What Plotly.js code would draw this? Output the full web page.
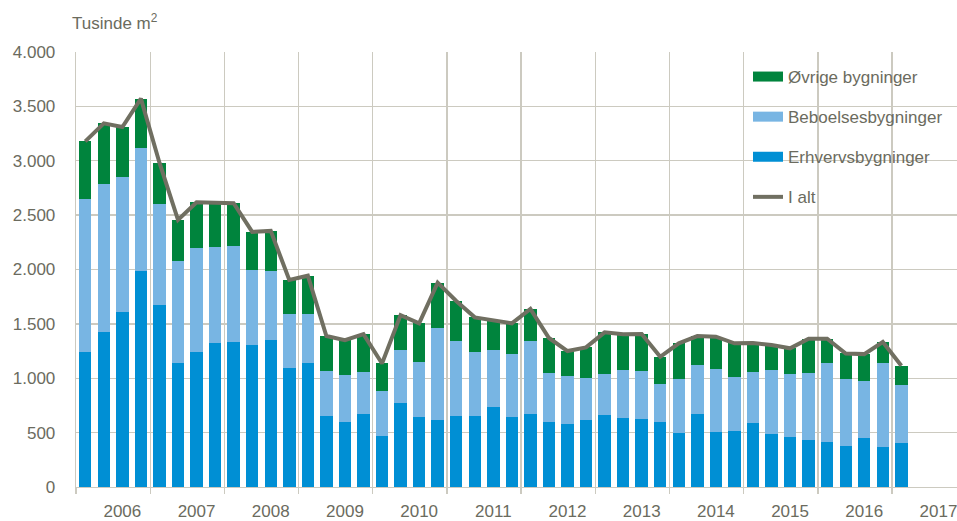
<!DOCTYPE html>
<html>
<head>
<meta charset="utf-8">
<script src="https://cdn.plot.ly/plotly-3.0.1.min.js"></script>
<style>html,body{margin:0;padding:0;background:#fff;}#chart{width:957px;height:521px;}</style>
</head>
<body>
<div id="chart"></div>
<script>
// Quarterly values, 2006 Q1 - 2017 Q1 (index 0..44), thousand m2
const quarterIndex = [0,1,2,3,4,5,6,7,8,9,10,11,12,13,14,15,16,17,18,19,20,21,22,23,24,25,26,27,28,29,30,31,32,33,34,35,36,37,38,39,40,41,42,43,44];
const erhverv = [1243,1428,1612,1990, 1674,1142,1243,1327, 1333,1305,1354,1096, 1142,654,599,672, 470,774,645,620, 654,654,737,645, 672,596,577,617, 660,636,626,596, 497,667,504,516, 590,491,461,433, 415,381,452,366, 405];
const beboelse = [1407,1360,1241,1127, 930,937,953,881, 884,691,630,495, 446,414,427,382, 414,485,504,845, 688,584,519,580, 670,454,443,381, 378,436,440,347, 498,451,577,494, 466,581,577,614, 724,611,521,776, 529];
const oevrige = [528,556,457,454, 378,377,423,411, 393,350,371,313, 355,320,325,352, 252,322,356,414, 368,322,279,280, 295,320,230,286, 384,332,340,254, 326,270,301,311, 269,233,237,316, 224,236,249,191, 181];
const ialt = [3178,3344,3310,3571, 2982,2456,2619,2619, 2610,2346,2355,1904, 1943,1388,1351,1406, 1136,1581,1505,1879, 1710,1560,1535,1505, 1637,1370,1250,1284, 1422,1404,1406,1197, 1321,1388,1382,1321, 1325,1305,1275,1363, 1363,1228,1222,1333, 1115];
const yearLabels = ['2006','2007','2008','2009','2010','2011','2012','2013','2014','2015','2016','2017'];
const seriesNames = ['Øvrige bygninger','Beboelsesbygninger','Erhvervsbygninger','I alt'];

const cErh = '#008FD4', cBeb = '#78B5E3', cOev = '#00843D', cTot = '#706F61';
const txt = '#6B6B5E', grid = '#CCCAC0';
const font = '"Liberation Sans", Arial, sans-serif';

const yearTickPos = yearLabels.map((_, i) => i * 4 + 2);
const boundaryPos = yearLabels.map((_, i) => i * 4 - 0.5);

const traces = [
  {x:[null], y:[null], mode:'lines', name:seriesNames[0], line:{color:cOev, width:11}, legendgroup:'a', legendrank:1, hoverinfo:'skip'},
  {x:[null], y:[null], mode:'lines', name:seriesNames[1], line:{color:cBeb, width:11}, legendgroup:'b', legendrank:2, hoverinfo:'skip'},
  {x:[null], y:[null], mode:'lines', name:seriesNames[2], line:{color:cErh, width:11}, legendgroup:'c', legendrank:3, hoverinfo:'skip'},
  {type:'bar', x:quarterIndex, y:erhverv, name:seriesNames[2], marker:{color:cErh, line:{width:0}}, showlegend:false, hoverinfo:'skip'},
  {type:'bar', x:quarterIndex, y:beboelse, name:seriesNames[1], marker:{color:cBeb, line:{width:0}}, showlegend:false, hoverinfo:'skip'},
  {type:'bar', x:quarterIndex, y:oevrige, name:seriesNames[0], marker:{color:cOev, line:{width:0}}, showlegend:false, hoverinfo:'skip'},
  {type:'scatter', mode:'lines', x:quarterIndex, y:ialt, name:seriesNames[3], line:{color:cTot, width:4}, legendgroup:'d', legendrank:4, hoverinfo:'skip'},
  {x:[null], y:[null], xaxis:'x2', yaxis:'y', mode:'lines', showlegend:false, hoverinfo:'skip'}
];

const layout = {
  width:957, height:521,
  margin:{l:76, r:0, t:52, b:34, pad:0, autoexpand:false},
  paper_bgcolor:'#fff', plot_bgcolor:'#fff',
  separators:',.',
  font:{family:font, size:17, color:txt},
  barmode:'stack', bargap:0.33,
  showlegend:true,
  title:{text:'Tusinde m<sup>2</sup>', font:{family:font, size:17, color:txt}, xref:'container', yref:'container', x:72/957, xanchor:'left', y:1-23/521, yanchor:'middle'},
  xaxis:{range:[-0.5, 47], tickvals:boundaryPos, showticklabels:false, ticks:'outside', ticklen:6, tickcolor:grid, tickwidth:1.3,
         showgrid:true, gridcolor:grid, gridwidth:1.3, showline:true, linecolor:grid, linewidth:1.3, zeroline:false, fixedrange:true},
  xaxis2:{overlaying:'x', anchor:'y', side:'bottom', range:[-0.5, 47], tickvals:yearTickPos, ticktext:yearLabels, ticks:'', showgrid:false,
          showline:false, zeroline:false, ticklabelstandoff:12, ticklabeloverflow:'allow', tickfont:{family:font, size:17, color:txt}},
  yaxis:{range:[0,4000], dtick:500, tickformat:',d', ticks:'', showgrid:true, gridcolor:grid, gridwidth:1.3, showline:true, linecolor:grid, linewidth:1.3,
         zeroline:false, ticklabelstandoff:16, tickfont:{family:font, size:17, color:txt}, fixedrange:true},
  legend:{xref:'paper', yref:'paper', x:(748-76)/881, y:1-(7)/435, xanchor:'left', yanchor:'top', bgcolor:'rgba(0,0,0,0)',
          tracegroupgap:15, traceorder:'grouped', font:{family:font, size:17, color:txt}, itemwidth:30}
};

Plotly.newPlot('chart', traces, layout, {displayModeBar:false, staticPlot:true});
</script>
</body>
</html>
